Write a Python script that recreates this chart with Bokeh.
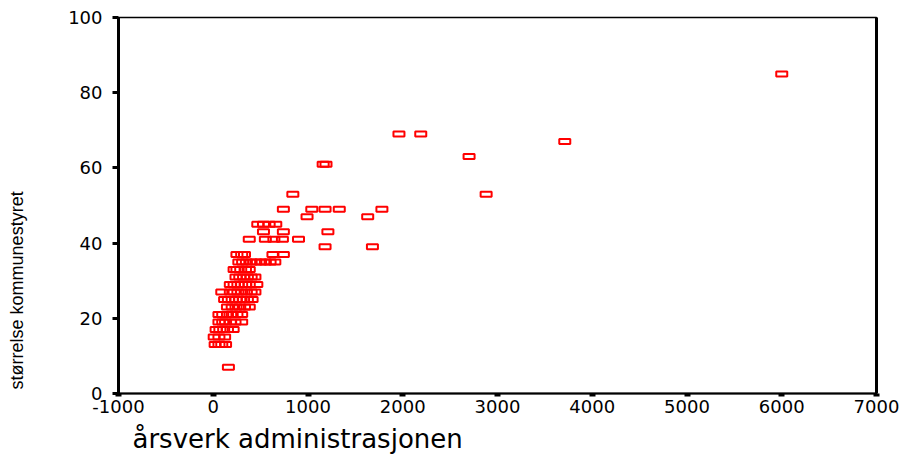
import math
from bokeh.plotting import figure
from bokeh.layouts import row
from bokeh.models import LinearAxis, FixedTicker, ColumnDataSource, Title
from bokeh.core.properties import value
from bokeh.embed import file_html
from bokeh.resources import INLINE

# årsverk administrasjonen (x) and størrelse kommunestyret (y)
admin_x = [
    160,
    20, 60, 90, 130,
    10, 60, 120,
    30, 70, 110, 150, 210,
    60, 100, 130, 180, 230, 300,
    60, 100, 150, 200, 250, 300,
    150, 200, 240, 280, 330, 380,
    120, 160, 200, 240, 280, 320, 360, 410,
    90, 180, 220, 260, 300, 350, 400, 440,
    180, 220, 260, 300, 340, 380, 460,
    240, 280, 320, 360, 400, 440,
    220, 250, 290, 340, 380,
    270, 310, 350, 400, 450, 500, 550, 600, 650,
    250, 300, 330, 630, 740,
    1180, 1680,
    380, 550, 640, 730, 900,
    530, 740, 1210,
    470, 530, 590, 660,
    990, 1630,
    740, 1040, 1180, 1330, 1780,
    840, 2880,
    1160, 1190,
    2700,
    3710,
    1960, 2190,
    6000,
]
styre_y = [
    7,
    13, 13, 13, 13,
    15, 15, 15,
    17, 17, 17, 17, 17,
    19, 19, 19, 19, 19, 19,
    21, 21, 21, 21, 21, 21,
    23, 23, 23, 23, 23, 23,
    25, 25, 25, 25, 25, 25, 25, 25,
    27, 27, 27, 27, 27, 27, 27, 27,
    29, 29, 29, 29, 29, 29, 29,
    31, 31, 31, 31, 31, 31,
    33, 33, 33, 33, 33,
    35, 35, 35, 35, 35, 35, 35, 35, 35,
    37, 37, 37, 37, 37,
    39, 39,
    41, 41, 41, 41, 41,
    43, 43, 43,
    45, 45, 45, 45,
    47, 47,
    49, 49, 49, 49, 49,
    53, 53,
    61, 61,
    63,
    67,
    69, 69,
    85,
]
x_ticks = [-1000, 0, 1000, 2000, 3000, 4000, 5000, 6000, 7000]
x_tick_labels = ["-1000", "0", "1000", "2000", "3000", "4000", "5000", "6000", "7000"]
y_ticks = [0, 20, 40, 60, 80, 100]
x_title = "årsverk administrasjonen"
y_title = "størrelse kommunestyret"

tick_font = "DejaVu Sans"
LEFT_W = 40
TOTAL_W = 905
TOTAL_H = 459

# rotated y title in a narrow strip on the left
lab = figure(width=LEFT_W, height=TOTAL_H, x_range=(0, LEFT_W), y_range=(0, TOTAL_H),
             output_backend="svg", toolbar_location=None,
             x_axis_type=None, y_axis_type=None,
             min_border=0, min_border_left=0, min_border_right=0,
             min_border_top=0, min_border_bottom=0)
lab.grid.visible = False
lab.outline_line_color = None
lab.background_fill_color = "white"
lab.border_fill_color = "white"
lab.text(x=[16], y=[5], text=[y_title], angle=math.pi / 2,
         text_font=value("Liberation Sans"), text_font_size="18px",
         text_color="black", text_align="left", text_baseline="alphabetic")

# main scatter
src = ColumnDataSource(dict(x=admin_x, y=styre_y))
p = figure(width=TOTAL_W - LEFT_W, height=TOTAL_H, x_range=(-1000, 7000), y_range=(0, 100),
           output_backend="svg", toolbar_location=None,
           min_border_left=118 - LEFT_W, min_border_right=29, min_border_top=17,
           min_border_bottom=TOTAL_H - 393)
p.grid.visible = False
p.background_fill_color = "white"
p.border_fill_color = "white"
p.outline_line_color = "black"
p.outline_line_width = 1.5

p.rect("x", "y", width=11, height=5, width_units="screen", height_units="screen",
       fill_color=None, line_color="#ff0000", line_width=2, source=src)

p.xaxis.ticker = FixedTicker(ticks=x_ticks)
p.xaxis.major_label_overrides = dict(zip(x_ticks, x_tick_labels))
p.xaxis.axis_line_width = 2
p.xaxis.axis_line_color = "black"
p.xaxis.major_tick_in = 0
p.xaxis.major_tick_out = 3
p.xaxis.major_tick_line_width = 6
p.xaxis.major_tick_line_cap = "butt"
p.xaxis.minor_tick_line_color = None
p.xaxis.major_label_text_font = tick_font
p.xaxis.major_label_text_font_size = "18px"
p.xaxis.major_label_text_color = "black"
p.xaxis.major_label_standoff = 3

p.yaxis.ticker = FixedTicker(ticks=y_ticks)
p.yaxis.axis_line_width = 3
p.yaxis.axis_line_color = "black"
p.yaxis.major_tick_in = 0
p.yaxis.major_tick_out = 6
p.yaxis.major_tick_line_width = 3
p.yaxis.major_tick_line_cap = "butt"
p.yaxis.minor_tick_line_color = None
p.yaxis.major_label_text_font = tick_font
p.yaxis.major_label_text_font_size = "18px"
p.yaxis.major_label_text_color = "black"
p.yaxis.major_label_standoff = 10

right = LinearAxis(ticker=FixedTicker(ticks=[]), axis_line_width=3,
                   axis_line_color="black", major_tick_line_color=None,
                   minor_tick_line_color=None, major_label_text_font_size="0px")
p.add_layout(right, "right")

p.add_layout(Title(text=x_title, align="left", offset=14, standoff=12,
                   text_font=tick_font, text_font_size="26px",
                   text_font_style="normal", text_color="black"), "below")

layout = row(lab, p, spacing=0)

open("out.html", "w").write(file_html(layout, INLINE))
